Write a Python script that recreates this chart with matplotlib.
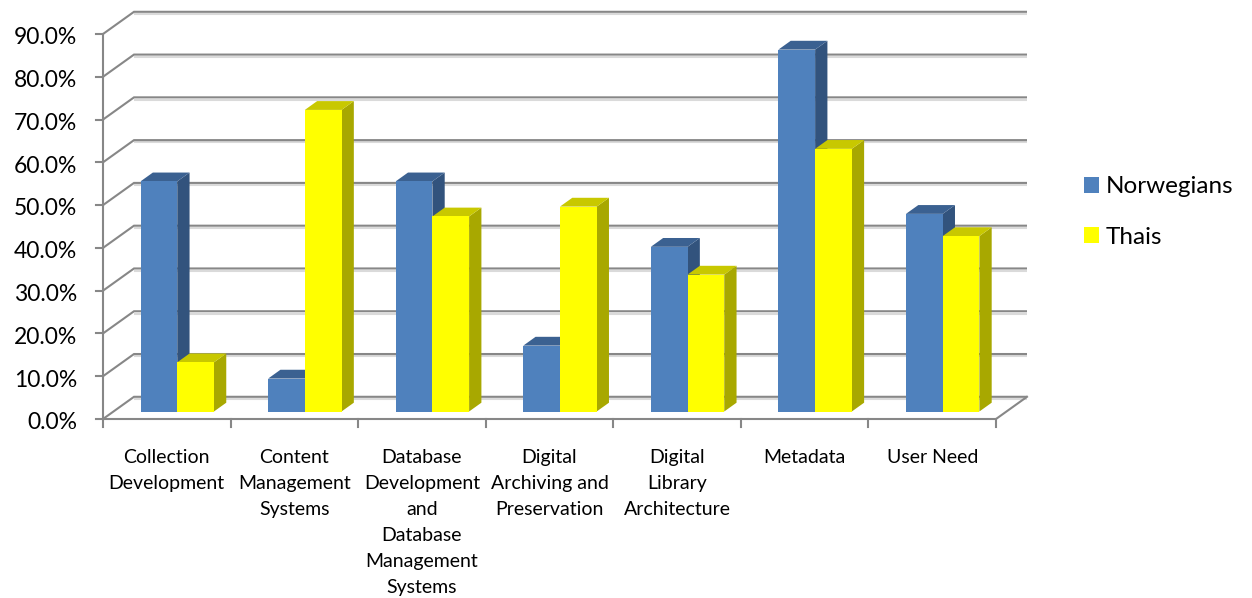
import matplotlib
matplotlib.use("Agg")
import matplotlib.pyplot as plt
from matplotlib.patches import Polygon, Rectangle, Patch

# Survey shares (%) per subject area
categories = [
    "Collection\nDevelopment",
    "Content\nManagement\nSystems",
    "Database\nDevelopment\nand\nDatabase\nManagement\nSystems",
    "Digital\nArchiving and\nPreservation",
    "Digital\nLibrary\nArchitecture",
    "Metadata",
    "User Need",
]
norwegians = [53.8, 7.7, 53.8, 15.4, 38.5, 84.6, 46.2]
thais = [11.5, 70.5, 45.6, 47.9, 32.0, 61.4, 41.0]
series_names = ["Norwegians", "Thais"]
y_ticks = [0, 10, 20, 30, 40, 50, 60, 70, 80, 90]

FONT = "Lato"
W, H = 1252, 598
fig = plt.figure(figsize=(W / 100, H / 100), dpi=100)
ax = fig.add_axes([0, 0, 1, 1])
ax.axis("off")

# Plot frame in pixels (front plane) and oblique depth offset
X_LEFT, X_RIGHT = 103, 996
Y_ZERO, Y_TOP = 419, 34
n = len(categories)
sx = (X_RIGHT - X_LEFT) / n          # px per category
sy = (Y_ZERO - Y_TOP) / y_ticks[-1]  # px per percent
ax.set_xlim(-X_LEFT / sx, (W - X_LEFT) / sx)
ax.set_ylim(-(H - Y_ZERO) / sy, Y_ZERO / sy)

DX = 31.0 / sx
DY = 22.2 / sy

grid_c = "#878787"
shadow_c = "#DADADA"
lw = 1.5

# Back wall gridlines with their soft shadow, and left wall diagonals
for v in y_ticks:
    ax.plot([DX, n + DX], [v + DY - 2.3 / sy] * 2, color=shadow_c, lw=lw,
            solid_capstyle="butt", zorder=1)
for v in y_ticks:
    ax.plot([0, DX, n + DX], [v, v + DY, v + DY], color=grid_c, lw=lw,
            solid_capstyle="butt", solid_joinstyle="miter", zorder=2)

# Floor edges, vertical axis and tick marks
ax.plot([0, n, n + DX], [0, 0, DY], color=grid_c, lw=lw,
        solid_joinstyle="miter", zorder=2)
ax.plot([0, 0], [0, y_ticks[-1]], color=grid_c, lw=lw, zorder=2)
for v in y_ticks:
    ax.plot([-7 / sx, 0], [v, v], color=grid_c, lw=lw, zorder=2)
for i in range(n + 1):
    ax.plot([i, i], [0, -8 / sy], color=grid_c, lw=lw, zorder=2)

# 3D bars
t0 = 7.5 / 22.2
t1 = t0 + 12.3 / 31.0
bw = 36.7 / sx
pad = (1 - 2 * bw) / 2
styles = [
    ("#4F81BD", "#3B6191", "#32537D"),
    ("#FFFF00", "#C8C800", "#A8A800"),
]


def draw_bar(x0, v, front, top, side, z):
    xa, ya = x0 + t0 * DX, t0 * DY
    xb, yb = x0 + t1 * DX, t1 * DY
    ax.add_patch(Polygon([(xa + bw, ya), (xb + bw, yb), (xb + bw, yb + v),
                          (xa + bw, ya + v)], closed=True, facecolor=side,
                         edgecolor="none", zorder=z))
    ax.add_patch(Polygon([(xa, ya + v), (xa + bw, ya + v), (xb + bw, yb + v),
                          (xb, yb + v)], closed=True, facecolor=top,
                         edgecolor="none", zorder=z))
    ax.add_patch(Rectangle((xa, ya), bw, v, facecolor=front,
                           edgecolor="none", zorder=z))


z = 3
for i in range(n):
    for k, vals in enumerate([norwegians, thais]):
        draw_bar(i + pad + k * bw, vals[i], *styles[k], z)
        z += 1

# Value axis labels
for v in y_ticks:
    ax.text(-26 / sx, v - 10.3 / sy, f"{v:.1f}%", ha="right", va="baseline",
            fontsize=16.5, family=FONT, color="#000000")

# Category labels
line_px = 26.1
for i, lab in enumerate(categories):
    for j, line in enumerate(lab.split("\n")):
        ypx = 463 + j * line_px
        ax.text(i + 0.5, (Y_ZERO - ypx) / sy, line, ha="center",
                va="baseline", fontsize=14, family=FONT, color="#000000")

# Legend
fs = 17.5
fpx = fs * 100 / 72
handles = [Patch(facecolor=styles[0][0], edgecolor="none"),
           Patch(facecolor=styles[1][0], edgecolor="none")]
ax.legend(handles, series_names, loc="center left",
          bbox_to_anchor=(1084 / W, 1 - 212 / H), bbox_transform=fig.transFigure,
          frameon=False, borderpad=0, borderaxespad=0,
          handlelength=15 / fpx, handleheight=15 / fpx,
          handletextpad=6.7 / fpx, labelspacing=1.2,
          prop={"family": FONT, "size": fs})

fig.savefig("out.png", dpi=100)
